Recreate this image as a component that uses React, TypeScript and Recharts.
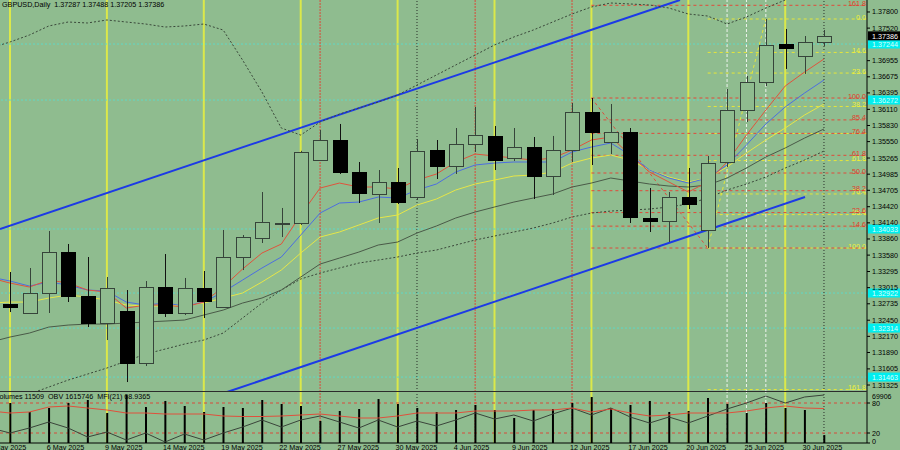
import React from 'react';
import { ComposedChart, Bar, Line, XAxis, YAxis, ReferenceLine } from 'recharts';

// ---------- data ----------
const dates = ['1 May 2025','2 May 2025','5 May 2025','6 May 2025','7 May 2025','8 May 2025','9 May 2025','12 May 2025','13 May 2025','14 May 2025','15 May 2025','16 May 2025','19 May 2025','20 May 2025','21 May 2025','22 May 2025','23 May 2025','26 May 2025','27 May 2025','28 May 2025','29 May 2025','30 May 2025','2 Jun 2025','3 Jun 2025','4 Jun 2025','5 Jun 2025','6 Jun 2025','9 Jun 2025','10 Jun 2025','11 Jun 2025','12 Jun 2025','13 Jun 2025','16 Jun 2025','17 Jun 2025','18 Jun 2025','19 Jun 2025','20 Jun 2025','23 Jun 2025','24 Jun 2025','25 Jun 2025','26 Jun 2025','27 Jun 2025','30 Jun 2025','1 Jul 2025'];

const opens = [null,1.32731,1.32575,1.32922,1.33634,1.32870,1.32401,1.32610,1.31707,1.33026,1.32575,1.33009,1.32679,1.33547,1.33877,1.34129,1.34137,1.35231,1.35578,1.35023,1.34641,1.34849,1.34589,1.35404,1.35127,1.35509,1.35648,1.35266,1.35457,1.34953,1.35404,1.36064,1.35543,1.35717,1.34224,1.34172,1.34589,1.34016,1.35196,1.36099,1.36585,1.37245,1.37036,1.37287];
const highs = [null,1.33287,1.33356,1.33998,1.33773,1.33547,1.33200,1.32974,1.33130,1.33599,1.33183,1.33304,1.34016,1.33929,1.34675,1.34398,1.35390,1.35752,1.35856,1.35196,1.35057,1.35092,1.35595,1.35578,1.35786,1.36151,1.35821,1.35786,1.35630,1.35648,1.36220,1.36307,1.36203,1.35786,1.34745,1.34675,1.35092,1.35300,1.36463,1.36689,1.37678,1.37505,1.37383,1.37488];
const lows = [null,1.32592,1.32575,1.32575,1.32766,1.32332,1.32106,1.31377,1.31655,1.32506,1.32540,1.32488,1.32679,1.33321,1.33790,1.33894,1.34103,1.35231,1.34988,1.34484,1.34137,1.34467,1.34537,1.34901,1.34988,1.35370,1.35057,1.35214,1.34554,1.34623,1.35196,1.35144,1.35335,1.34137,1.33981,1.33807,1.34380,1.33703,1.35109,1.35891,1.36515,1.36811,1.36724,1.37205];
const closes = [null,1.32679,1.32922,1.33634,1.32870,1.32401,1.33009,1.31707,1.33026,1.32575,1.33009,1.32783,1.33547,1.33894,1.34155,1.34146,1.35370,1.35578,1.35023,1.34658,1.34849,1.34502,1.35387,1.35127,1.35509,1.35665,1.35231,1.35457,1.34953,1.35404,1.36064,1.35717,1.35717,1.34241,1.34172,1.34589,1.34467,1.35179,1.36099,1.36585,1.37227,1.37175,1.37279,1.37386];

const maRed = [1.33182,1.33095,1.33026,1.33147,1.33095,1.32974,1.32939,1.32661,1.32713,1.32713,1.32679,1.32765,1.33026,1.33338,1.33616,1.33772,1.34276,1.34744,1.34831,1.34762,1.34762,1.34727,1.34883,1.34987,1.35196,1.35335,1.35300,1.35265,1.35230,1.35265,1.35404,1.35578,1.35630,1.35317,1.35022,1.34849,1.34675,1.34849,1.35196,1.35664,1.36098,1.36515,1.36758,1.36984];
const maBlue = [1.33199,1.33130,1.33043,1.33113,1.33060,1.32974,1.32956,1.32765,1.32713,1.32748,1.32696,1.32765,1.32939,1.33147,1.33356,1.33547,1.33928,1.34310,1.34484,1.34501,1.34588,1.34571,1.34710,1.34814,1.35022,1.35144,1.35178,1.35196,1.35196,1.35196,1.35369,1.35456,1.35526,1.35317,1.35057,1.34918,1.34831,1.34918,1.35144,1.35491,1.35855,1.36151,1.36394,1.36619];
const maYellow = [1.32748,1.32765,1.32765,1.32835,1.32887,1.32852,1.32800,1.32713,1.32696,1.32696,1.32713,1.32748,1.32835,1.32922,1.33113,1.33321,1.33616,1.33894,1.33981,1.34102,1.34224,1.34276,1.34449,1.34553,1.34710,1.34814,1.34883,1.34953,1.34970,1.35022,1.35178,1.35265,1.35317,1.35230,1.35057,1.34935,1.34849,1.34918,1.35109,1.35352,1.35578,1.35786,1.36012,1.36203];
const maGray = [1.32071,1.32158,1.32227,1.32331,1.32366,1.32383,1.32383,1.32401,1.32418,1.32435,1.32453,1.32540,1.32626,1.32748,1.32835,1.32974,1.33199,1.33425,1.33529,1.33633,1.33755,1.33807,1.33963,1.34085,1.34224,1.34328,1.34415,1.34501,1.34571,1.34640,1.34762,1.34831,1.34918,1.34866,1.34814,1.34779,1.34762,1.34796,1.34918,1.35092,1.35283,1.35439,1.35612,1.35769];
const bandUpper = [1.37175,1.37279,1.37400,1.37557,1.37626,1.37609,1.37661,1.37626,1.37591,1.37539,1.37557,1.37591,1.37487,1.36966,1.36411,1.35786,1.35664,1.35890,1.36029,1.36133,1.36237,1.36359,1.36532,1.36706,1.36880,1.37053,1.37227,1.37366,1.37487,1.37626,1.37765,1.37887,1.37956,1.37939,1.37921,1.37869,1.37765,1.37730,1.37591,1.37713,1.37869,1.38008,1.38147,1.38268];
const bandLower = [1.30856,1.31029,1.31168,1.31290,1.31411,1.31515,1.31620,1.31741,1.31863,1.31949,1.32036,1.32106,1.32227,1.32488,1.32748,1.32974,1.33165,1.33269,1.33356,1.33442,1.33494,1.33547,1.33616,1.33668,1.33755,1.33842,1.33911,1.33981,1.34050,1.34137,1.34241,1.34310,1.34345,1.34362,1.34380,1.34415,1.34467,1.34571,1.34710,1.34814,1.34935,1.35092,1.35230,1.35387];

const volumes = [null,58000,45000,50800,58000,62400,43500,69906,52200,61000,53700,45000,52200,50800,62400,56600,53700,31900,46400,49300,63800,56600,50800,45000,47900,55100,47900,36300,47900,49300,58000,66700,50800,55100,61000,45000,46400,65300,56600,43500,58000,50800,47900,11509];
const obv = [1358346,1319346,1358346,1405146,1358346,1288146,1327146,1264746,1319346,1249146,1311546,1264746,1319346,1366146,1420746,1366146,1420746,1451946,1405146,1358346,1420746,1366146,1412946,1373946,1420746,1475346,1428546,1459746,1412946,1467546,1514346,1459746,1514346,1444146,1397346,1444146,1397346,1451946,1506546,1553346,1607946,1553346,1600146,1615746];
const mfi = [64,60,62,72,74,70,66,60,60,58,58,58,54,53,53,54,56,58,54,50,50,54,60,60,60,64,64,64,66,66,70,62,68,60,54,56,60,60,60,64,70,74,70,68.9365];

const priceTicks = [1.37800,1.37520,1.36955,1.36675,1.36395,1.36110,1.35830,1.35550,1.35265,1.34985,1.34705,1.34420,1.34140,1.33860,1.33580,1.33295,1.33015,1.32735,1.32450,1.32170,1.31890,1.31605,1.31325];
const cyanLevels = [1.37244,1.36272,1.34033,1.32922,1.32314,1.31463];
const lastPrice = 1.37386;

const redFibNames = ['0.0','14.6','23.6','38.2','50.0','61.8','76.4','85.4','100.0','161.8'];
const redFibPrices = [1.33703,1.34083,1.34318,1.34698,1.35005,1.35312,1.35693,1.35927,1.36307,1.37916];
const redFibStart = 30;
const yellowFibNames = ['0.0','14.6','23.6','38.2','50.0','61.8','76.4','85.4','100.0','161.8'];
const yellowFibPrices = [1.37678,1.37098,1.36740,1.36160,1.35691,1.35221,1.34641,1.34283,1.33703,1.31246];
const yellowFibStart = 36;

const yellowDays = [0,5,10,15,20,25,30,35,40];
const redDays = [16,24,29];
const whiteDays = [37,38,39];
const monthDays = [21,42];
const dateTickIdx = [-1,2,5,8,11,14,17,20,23,26,29,32,35,38,41];

const channelUpper = [{ x: -0.516, y: 1.34033 }, { x: 34.57, y: 1.38008 }];
const channelLower = [{ x: 11.2, y: 1.31204 }, { x: 41.02, y: 1.34588 }];
const redFibTrend = [{ x: 30, y: 1.36307 }, { x: 36, y: 1.33703 }];
const yellowFibTrend = [{ x: 36, y: 1.33703 }, { x: 39, y: 1.37678 }];

const X_DOMAIN: [number, number] = [-0.516, 44.22];
const Y_DOMAIN: [number, number] = [1.31204, 1.38008];

const rows = dates.map((date, k) => ({
  i: k - 1, date,
  open: opens[k], high: highs[k], low: lows[k], close: closes[k],
  red: maRed[k], blue: maBlue[k], yellow: maYellow[k], gray: maGray[k],
  up: bandUpper[k], lo: bandLower[k],
  vol: volumes[k], obv: obv[k], mfi: mfi[k],
}));

// ---------- style ----------
const BG = '#8FBC8F';
const FONT = 'Liberation Sans, Arial, sans-serif';
const OUTLINE = '#36443a';

const Candle = (props: any) => {
  const { x, y, width, height, payload } = props;
  if (!payload || payload.open == null) return null;
  const { open, close, high, low } = payload;
  const top = Math.min(y, y + height);
  const h = Math.abs(height);
  const range = high - low || 1e-9;
  const py = (v: number) => top + ((high - v) / range) * h;
  const cx = Math.round(x + width / 2) + 0.5;
  const bull = close >= open;
  const yo = py(open), yc = py(close);
  const bt = Math.round(Math.min(yo, yc)) + 0.5;
  const bb = Math.max(Math.round(Math.max(yo, yc)) + 0.5, bt + 1);
  const left = Math.round(x) + 0.5;
  return (
    <g>
      <line x1={cx} x2={cx} y1={top} y2={top + h} stroke={bull ? OUTLINE : '#111'} strokeWidth={1} />
      <rect x={left} y={bt} width={Math.round(width)} height={bb - bt} fill={bull ? BG : '#000'} stroke={bull ? OUTLINE : '#000'} strokeWidth={1} />
    </g>
  );
};

const PriceTick = (props: any) => {
  const { x, y, payload } = props;
  return (
    <text x={x} y={y} dy={2.5} fontSize={7.2} fontFamily={FONT} fill="#000">{Number(payload.value).toFixed(5)}</text>
  );
};

const MfiTick = (props: any) => {
  const { x, y, payload } = props;
  return (
    <text x={x} y={y} dy={payload.value === 0 ? 0.5 : 2.5} fontSize={7.2} fontFamily={FONT} fill="#000">{String(payload.value)}</text>
  );
};

const DateTick = (props: any) => {
  const { x, y, payload } = props;
  return (
    <text x={x - 2} y={y + 6.5} fontSize={7.2} fontFamily={FONT} fill="#000">{dates[payload.value + 1]}</text>
  );
};

const AxisBox = (props: any) => {
  const vb = props.viewBox || { x: 0, y: 0, width: 0 };
  const x = vb.x + vb.width + 1;
  return (
    <g>
      <rect x={x} y={vb.y - 4.5} width={32} height={9} fill={props.bg} />
      <text x={x + 4} y={vb.y + 2.7} fontSize={7.2} fontFamily={FONT} fill={props.fg}>{props.text}</text>
    </g>
  );
};

const RightText = (props: any) => {
  const vb = props.viewBox || { x: 0, y: 0, width: 0 };
  return (
    <text x={vb.x + vb.width + 5} y={vb.y + 4} fontSize={7} fontFamily={FONT} fill="#000">{props.text}</text>
  );
};

const FibLabel = (props: any) => {
  const vb = props.viewBox || { x: 0, y: 0, width: 0 };
  return (
    <text x={vb.x + vb.width - 1} y={vb.y + 0.5} textAnchor="end" fontSize={7.2} fontFamily={FONT} fill={props.color}>{props.text}</text>
  );
};

const vLines = (yAxisId?: string) => {
  const common: any = yAxisId ? { yAxisId } : {};
  return [
    ...yellowDays.map((d) => <ReferenceLine key={'yv' + d} {...common} x={d} stroke="#dbe84a" strokeWidth={2} zIndex={-20} />),
    ...redDays.map((d) => <ReferenceLine key={'rv' + d} {...common} x={d} stroke="#d9493a" strokeWidth={1} strokeDasharray="2 1" zIndex={-20} />),
    ...whiteDays.map((d) => <ReferenceLine key={'wv' + d} {...common} x={d} stroke="#eef3ee" strokeWidth={1} strokeDasharray="3 2" zIndex={-20} />),
    ...monthDays.map((d) => <ReferenceLine key={'mv' + d} {...common} x={d} stroke="#2a2f2a" strokeWidth={1} strokeDasharray="1 2" zIndex={-20} />),
  ];
};

export default function App() {
  return (
    <div style={{ position: 'fixed', left: 0, top: 0, width: 900, height: 450, background: BG, overflow: 'hidden' }}>
      <div style={{ position: 'absolute', left: 0, top: 0 }}>
        <ComposedChart width={900} height={392} data={rows} margin={{ top: 0, right: 0, bottom: 0, left: 0 }}>
          <XAxis type="number" dataKey="i" domain={X_DOMAIN} hide allowDataOverflow />
          <YAxis type="number" orientation="right" width={33} domain={Y_DOMAIN} allowDataOverflow ticks={priceTicks} interval={0}
            tickSize={3} tickMargin={2} tick={PriceTick} tickLine={{ stroke: '#000' }} axisLine={{ stroke: '#000' }} />
          {vLines()}
          {cyanLevels.map((p, k) => (
            <ReferenceLine key={'cy' + k} y={p} stroke="#5fd8c6" strokeDasharray="2 2" zIndex={-15}
              label={(lp: any) => <AxisBox {...lp} text={p.toFixed(5)} bg="#00eeee" fg="#d8ffff" />} />
          ))}
          <ReferenceLine y={lastPrice} stroke="none" label={(lp: any) => <AxisBox {...lp} text={lastPrice.toFixed(5)} bg="#000" fg="#fff" />} />
          {yellowFibPrices.map((p, k) => (
            <ReferenceLine key={'yf' + k} segment={[{ x: yellowFibStart, y: p }, { x: X_DOMAIN[1], y: p }]} ifOverflow="hidden"
              stroke="#e6e63a" strokeDasharray="3 3" zIndex={-10}
              label={yellowFibNames[k] === '50.0' ? undefined : (lp: any) => <FibLabel {...lp} text={yellowFibNames[k]} color="#eef03a" />} />
          ))}
          {redFibPrices.map((p, k) => (
            <ReferenceLine key={'rf' + k} segment={[{ x: redFibStart, y: p }, { x: X_DOMAIN[1], y: p }]} ifOverflow="hidden"
              stroke="#e04a3a" strokeDasharray="3 3" zIndex={-10}
              label={k === 0 ? undefined : (lp: any) => <FibLabel {...lp} text={redFibNames[k]} color="#e23a2a" />} />
          ))}
          <ReferenceLine segment={redFibTrend} stroke="#e04a3a" strokeDasharray="3 3" ifOverflow="hidden" zIndex={-10} />
          <ReferenceLine segment={yellowFibTrend} stroke="#e6e63a" strokeDasharray="3 3" ifOverflow="hidden" zIndex={-10} />
          <ReferenceLine segment={channelUpper} stroke="#1c3ae6" strokeWidth={2} ifOverflow="hidden" zIndex={-5} />
          <ReferenceLine segment={channelLower} stroke="#1c3ae6" strokeWidth={2} ifOverflow="hidden" zIndex={-5} />
          <Line dataKey="up" stroke="#3a483a" strokeDasharray="2 2" dot={false} isAnimationActive={false} strokeWidth={1} />
          <Line dataKey="lo" stroke="#3a483a" strokeDasharray="2 2" dot={false} isAnimationActive={false} strokeWidth={1} />
          <Line dataKey="gray" stroke="#4a5a48" dot={false} isAnimationActive={false} strokeWidth={1} />
          <Line dataKey="yellow" stroke="#e6e648" dot={false} isAnimationActive={false} strokeWidth={1} />
          <Line dataKey="blue" stroke="#4c6ee0" dot={false} isAnimationActive={false} strokeWidth={1} />
          <Line dataKey="red" stroke="#e0533c" dot={false} isAnimationActive={false} strokeWidth={1} />
          <Bar dataKey={(d: any) => (d.open == null ? null : [d.low, d.high])} barSize={14} shape={Candle} isAnimationActive={false} zIndex={450} />
        </ComposedChart>
      </div>
      <div style={{ position: 'absolute', left: 0, top: 391, width: 867, height: 1, background: '#2c2c2c' }} />
      <div style={{ position: 'absolute', left: 0, top: 392 }}>
        <ComposedChart width={900} height={58} data={rows} margin={{ top: 0, right: 0, bottom: 0, left: 0 }}>
          <XAxis type="number" dataKey="i" domain={X_DOMAIN} allowDataOverflow ticks={dateTickIdx} interval={0} height={7}
            tickSize={0} tickMargin={0} tick={DateTick} tickLine={false} axisLine={{ stroke: '#000' }} />
          <YAxis yAxisId="mfi" type="number" orientation="right" width={33} domain={[0, 102]} allowDataOverflow ticks={[0, 20, 80]} interval={0}
            tickSize={3} tickMargin={2} tick={MfiTick} tickLine={{ stroke: '#000' }} axisLine={{ stroke: '#000' }} />
          <YAxis yAxisId="vol" type="number" hide domain={[0, 74000]} allowDataOverflow />
          <YAxis yAxisId="obv" type="number" hide domain={[1241346, 1639146]} allowDataOverflow />
          {vLines('mfi')}
          <ReferenceLine yAxisId="mfi" y={80} stroke="#d84a3a" strokeDasharray="3 3" zIndex={-10} />
          <ReferenceLine yAxisId="mfi" y={20} stroke="#d84a3a" strokeDasharray="3 3" zIndex={-10} />
          <ReferenceLine yAxisId="vol" y={69906} stroke="none" label={(lp: any) => <RightText {...lp} text="69906" />} />
          <Bar yAxisId="vol" dataKey="vol" barSize={2} fill="#000" isAnimationActive={false} />
          <Line yAxisId="obv" dataKey="obv" stroke="#3a443a" dot={false} isAnimationActive={false} strokeWidth={1} />
          <Line yAxisId="mfi" dataKey="mfi" stroke="#e0503c" dot={false} isAnimationActive={false} strokeWidth={1} />
        </ComposedChart>
      </div>
      <svg width={900} height={450} style={{ position: 'absolute', left: 0, top: 0, pointerEvents: 'none' }}>
        <text x={2} y={6.5} fontSize={7.2} fontFamily={FONT} fill="#000" xmlSpace="preserve">GBPUSD,Daily  1.37287 1.37488 1.37205 1.37386</text>
        <text x={-5} y={398.5} fontSize={7.2} fontFamily={FONT} fill="#000" xmlSpace="preserve">Volumes 11509  OBV 1615746  MFI(21) 68.9365</text>
      </svg>
    </div>
  );
}
